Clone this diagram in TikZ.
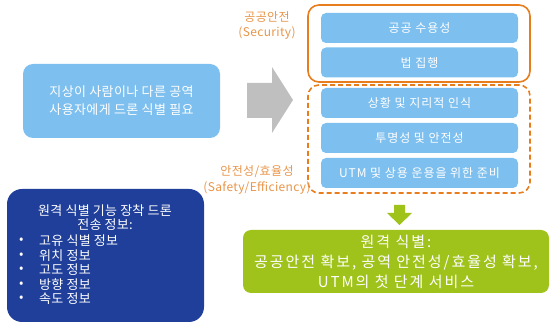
\documentclass[tikz,border=0pt]{standalone}
\usepackage{fontspec}
\setmainfont{Noto Sans CJK KR}
\definecolor{lblue}{HTML}{7DBFEE}
\definecolor{dblue}{HTML}{1F3F9A}
\definecolor{lgreen}{HTML}{9FC31A}
\definecolor{orng}{HTML}{E87D1E}
\definecolor{orlbl}{HTML}{E8954A}
\definecolor{gry}{HTML}{BFBFBF}
\newcommand{\ls}[1]{\addfontfeature{LetterSpace=#1}}
\tikzset{
  inbox/.style={fill=lblue, rounded corners=5pt, minimum width=197pt, minimum height=30pt, inner sep=0pt, text=white, font=\fontsize{12}{14}\selectfont\ls{8}},
  grpbox/.style={draw=orng, line width=1.6pt, rounded corners=11pt, minimum width=222pt, inner sep=0pt},
  lbl/.style={text=orlbl, font=\fontsize{12}{14}\selectfont\ls{3}, inner sep=0pt},
  bul/.style={text=white, font=\fontsize{13}{15}\selectfont\ls{2}, inner sep=0pt, anchor=west},
}
\begin{document}
\begin{tikzpicture}[x=1pt,y=-1pt]
\useasboundingbox (0,0) rectangle (550,323);
% left source box
\node[fill=lblue, rounded corners=10pt, minimum width=197pt, minimum height=74pt, inner sep=0pt, text=white, align=center, font=\fontsize{13}{18}\selectfont\ls{3}] (src) at (121.5,101) {지상이 사람이나 다른 공역\\사용자에게 드론 식별 필요};
% gray arrow
\fill[gry] (247,83) -- (272,83) -- (272,67) -- (293,100) -- (272,133) -- (272,118) -- (247,118) -- cycle;
% group boxes
\node[grpbox, minimum height=77pt] (sec) at (419,43.5) {};
\node[grpbox, dashed, dash pattern=on 5pt off 3pt, minimum height=108pt] (saf) at (419,139) {};
% inner boxes
\node[inbox] (b1) at (419.5,28) {공공 수용성};
\node[inbox] (b2) at (419.5,62.5) {법 집행};
\node[inbox] (b3) at (419.5,103) {상황 및 지리적 인식};
\node[inbox] (b4) at (419.5,138) {투명성 및 안전성};
\node[inbox] (b5) at (419.5,173) {UTM 및 상용 운용을 위한 준비};
% labels
\node[lbl] (l1) at (267,17) {공공안전};
\node[lbl] (l2) at (267,33) {(Security)};
\node[lbl] (l3) at (257,172) {안전성/효율성};
\node[lbl] (l4) at (257,188) {(Safety/Efficiency)};
% dark blue box
\node[fill=dblue, rounded corners=15pt, minimum width=197pt, minimum height=133pt, inner sep=0pt] (drone) at (105.5,255.5) {};
\node[text=white, align=center, font=\fontsize{13}{14}\selectfont\ls{2}, inner sep=0pt] (dt) at (105,218) {원격 식별 기능 장착 드론\\전송 정보:};
\node[bul] (p1) at (19,241) {•};
\node[bul] (q1) at (39,241) {고유 식별 정보};
\node[bul] (p2) at (19,255.5) {•};
\node[bul] (q2) at (39,255.5) {위치 정보};
\node[bul] (p3) at (19,270) {•};
\node[bul] (q3) at (39,270) {고도 정보};
\node[bul] (p4) at (19,284.5) {•};
\node[bul] (q4) at (39,284.5) {방향 정보};
\node[bul] (p5) at (19,299) {•};
\node[bul] (q5) at (39,299) {속도 정보};
% green arrow
\fill[lgreen] (394,205) -- (405,205) -- (405,213) -- (412,213) -- (399.5,225) -- (387,213) -- (394,213) -- cycle;
% green result box
\node[fill=lgreen, rounded corners=8pt, minimum width=306pt, minimum height=63pt, inner sep=0pt, text=white, align=center, font=\fontsize{15}{20}\selectfont\ls{13}] (res) at (396,261.5) {원격 식별:\\공공안전 확보, 공역 안전성/효율성 확보,\\UTM의 첫 단계 서비스};
\end{tikzpicture}
\end{document}
